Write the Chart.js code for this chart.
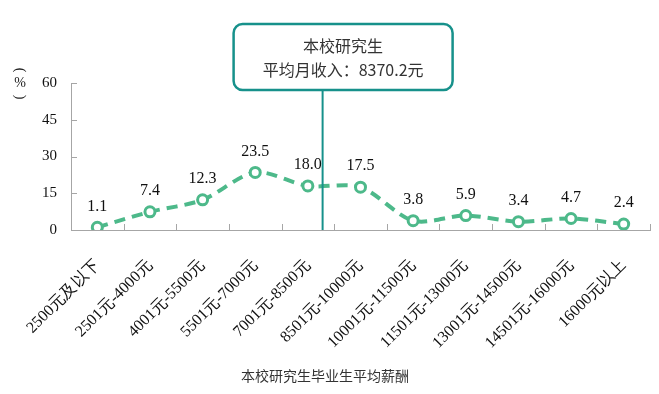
<!DOCTYPE html>
<html><head><meta charset="utf-8">
<script src="https://cdn.jsdelivr.net/npm/chart.js@4/dist/chart.umd.min.js"></script>
<style>html,body{margin:0;padding:0;background:#fff;}#wrap{width:659px;height:394px;}</style>
</head><body><div id="wrap"><canvas id="c" width="659" height="394"></canvas></div>
<script>
const categories = ['2500元及以下','2501元-4000元','4001元-5500元','5501元-7000元','7001元-8500元','8501元-10000元','10001元-11500元','11501元-13000元','13001元-14500元','14501元-16000元','16000元以上'];
const percentages = [1.1, 7.4, 12.3, 23.5, 18.0, 17.5, 3.8, 5.9, 3.4, 4.7, 2.4];
const yTicks = [0, 15, 30, 45, 60];
const averageIncome = 8370.2;
const averagePosition = 4.28; // category-scale position of the average line
const chartTitle = '本校研究生毕业生平均薪酬';
const boxLines = ['本校研究生', '平均月收入：' + averageIncome + '元'];

const SERIF = '"Liberation Serif", "DejaVu Serif", serif';
const CJK = '"Noto Sans CJK SC", "Noto Sans", sans-serif';
const GREEN = '#4DB98A';
const TEAL = '#17918B';
const AXIS = '#A6A6A6';

const decor = {
  id: 'decor',
  afterDatasetsDraw(chart) {
    const ctx = chart.ctx;
    const x = chart.scales.x, y = chart.scales.y;
    const area = chart.chartArea;
    ctx.save();
    // inward tick marks
    ctx.strokeStyle = AXIS; ctx.lineWidth = 1;
    ctx.beginPath();
    for (let i = 0; i <= categories.length; i++) {
      const px = Math.round(x.getPixelForValue(i - 0.5)) + 0.5;
      ctx.moveTo(px, area.bottom); ctx.lineTo(px, area.bottom - 6);
    }
    yTicks.forEach(v => {
      const py = Math.round(y.getPixelForValue(v)) + 0.5;
      ctx.moveTo(area.left, py); ctx.lineTo(area.left + 6, py);
    });
    ctx.stroke();
    // data labels
    const meta = chart.getDatasetMeta(0);
    ctx.fillStyle = '#111';
    ctx.font = '16px ' + SERIF;
    ctx.textAlign = 'center'; ctx.textBaseline = 'middle';
    meta.data.forEach((pt, i) => {
      ctx.fillText(percentages[i].toFixed(1), pt.x, pt.y - 21);
    });
    // average line + box
    const lx = x.getPixelForValue(averagePosition);
    const boxTop = area.top - 59, boxBottom = area.top + 7;
    const boxLeft = lx - 89, boxRight = lx + 130;
    ctx.strokeStyle = TEAL; ctx.lineWidth = 2;
    ctx.beginPath(); ctx.moveTo(lx, boxBottom); ctx.lineTo(lx, area.bottom); ctx.stroke();
    ctx.lineWidth = 2.5;
    ctx.beginPath();
    ctx.roundRect(boxLeft, boxTop, boxRight - boxLeft, boxBottom - boxTop, 9);
    ctx.fillStyle = '#fff'; ctx.fill(); ctx.stroke();
    ctx.fillStyle = '#333';
    ctx.font = '16px ' + CJK;
    const cx = (boxLeft + boxRight) / 2;
    ctx.fillText(boxLines[0], cx, boxTop + 22);
    ctx.fillText(boxLines[1], cx, boxTop + 46);
    // y unit label (%)
    const ux = 20, uy = y.getPixelForValue(60);
    ctx.fillStyle = '#222';
    ctx.font = '14px ' + SERIF;
    ctx.fillText('%', ux, uy);
    ctx.save(); ctx.translate(ux, uy - 13); ctx.rotate(Math.PI / 2); ctx.fillText('(', 0, 0); ctx.restore();
    ctx.save(); ctx.translate(ux, uy + 14); ctx.rotate(Math.PI / 2); ctx.fillText(')', 0, 0); ctx.restore();
    ctx.restore();
  }
};

new Chart(document.getElementById('c'), {
  type: 'line',
  data: {
    labels: categories,
    datasets: [{
      data: percentages,
      borderColor: GREEN,
      borderWidth: 4,
      borderDash: [11, 7],
      tension: 0.3,
      pointRadius: 5,
      pointBorderWidth: 3,
      pointBackgroundColor: '#fff',
      pointBorderColor: GREEN,
      fill: false
    }]
  },
  options: {
    responsive: false,
    animation: false,
    layout: { padding: { top: 83, left: 0, right: 9, bottom: 0 } },
    plugins: {
      legend: { display: false },
      tooltip: { enabled: false },
      title: {
        display: true, position: 'bottom', text: chartTitle,
        color: '#333', font: { family: CJK, size: 14, weight: 'normal' },
        padding: { top: 4, bottom: 10 }
      }
    },
    scales: {
      x: {
        offset: true,
        grid: { display: false, drawTicks: false },
        border: { color: AXIS, width: 1 },
        ticks: {
          color: '#111', font: { family: SERIF, size: 16 },
          maxRotation: 45, minRotation: 45, padding: 26, autoSkip: false
        },
        afterFit(s) { s.height = 133.2; s.paddingLeft = 0; s.paddingRight = 0; }
      },
      y: {
        min: 0, max: 60,
        afterBuildTicks(s) { s.ticks = yTicks.map(v => ({ value: v })); },
        grid: { display: false, drawTicks: false },
        border: { color: AXIS, width: 1 },
        ticks: { color: '#111', font: { family: SERIF, size: 15 }, padding: 14 },
        afterFit(s) { s.width = 71; s.paddingTop = 0; s.paddingBottom = 0; }
      }
    }
  },
  plugins: [decor]
});
</script></body></html>
